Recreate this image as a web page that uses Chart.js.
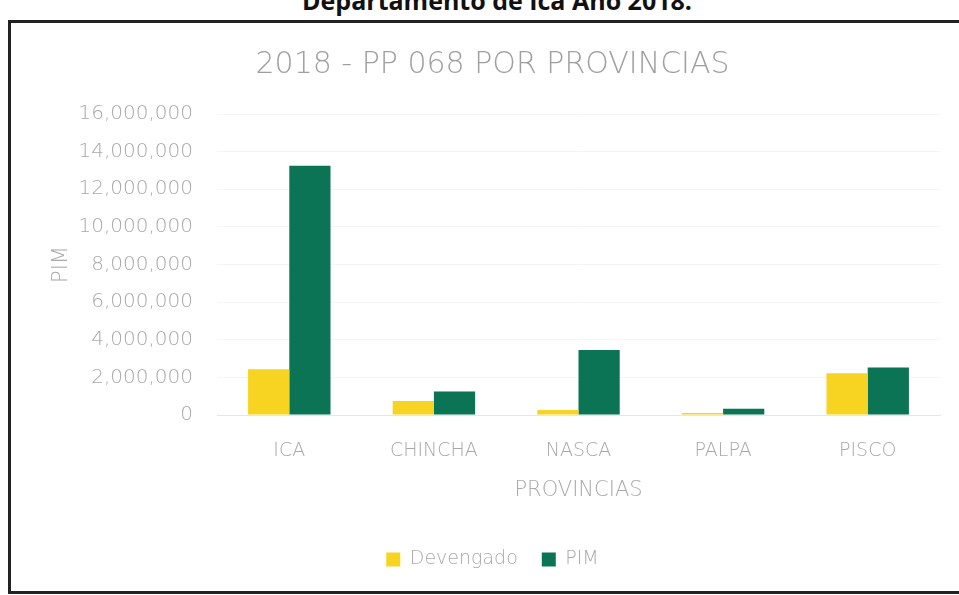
<!DOCTYPE html>
<html>
<head>
<meta charset="utf-8">
<script src="https://cdn.jsdelivr.net/npm/chart.js@4.4.0/dist/chart.umd.min.js"></script>
<style>
  body { margin: 0; background: #fff; width: 959px; height: 595px; overflow: hidden; position: relative; }
  #header {
    position: absolute; left: 0; width: 994px; top: -12px; line-height: 25px; text-align: center;
    font-family: "Open Sans", sans-serif; font-weight: bold; font-size: 25px; color: #111;
  }
  #frame {
    position: absolute; left: 8px; top: 20px; width: 960px; height: 568px;
    border-left: 3px solid #222; border-top: 3px solid #222; border-bottom: 3px solid #222;
  }
  #wrap { position: absolute; left: 11px; top: 23px; width: 948px; height: 568px; }
</style>
</head>
<body>
<div id="header">Departamento de Ica Año 2018.</div>
<div id="frame"></div>
<div id="wrap"><canvas id="chart"></canvas></div>
<script>
// provincias y montos (soles)
const provincias = ['ICA', 'CHINCHA', 'NASCA', 'PALPA', 'PISCO'];
const devengado  = [2430000, 750000, 270000, 100000, 2220000];
const pim        = [13250000, 1250000, 3450000, 330000, 2520000];

const grayText = '#a9a9a9';
const font = '"DejaVu Sans ExtraLight", "DejaVu Sans"';

const ctx = document.getElementById('chart').getContext('2d');
new Chart(ctx, {
  type: 'bar',
  data: {
    labels: provincias,
    datasets: [
      { label: 'Devengado', data: devengado, backgroundColor: '#f7d322' },
      { label: 'PIM',       data: pim,       backgroundColor: '#0b7455' }
    ]
  },
  options: {
    responsive: true,
    maintainAspectRatio: false,
    animation: false,
    layout: { padding: { left: 34, right: 19, top: 0, bottom: 12 } },
    datasets: { bar: { categoryPercentage: 0.57, barPercentage: 1.0 } },
    plugins: {
      title: {
        display: true,
        text: '2018 - PP 068 POR PROVINCIAS',
        color: '#9f9f9f',
        font: { family: font, size: 30, weight: '200' },
        padding: { top: 24, bottom: 31 }
      },
      legend: {
        position: 'bottom',
        labels: {
          color: grayText,
          font: { family: font, size: 19, weight: '200' },
          boxWidth: 14, boxHeight: 14, padding: 24
        }
      },
      tooltip: { enabled: false }
    },
    scales: {
      x: {
        grid: { display: false },
        border: { color: '#e6e6e6' },
        ticks: { color: grayText, font: { family: font, size: 19, weight: '200' }, padding: 17 },
        title: {
          display: true, text: 'PROVINCIAS', color: grayText,
          font: { family: font, size: 21, weight: '200' }, padding: { top: -2, bottom: 23 }
        }
      },
      y: {
        min: 0, max: 16000000,
        afterFit: scale => { scale.width = 172; },
        ticks: {
          stepSize: 2000000, color: grayText, padding: 24,
          font: { family: font, size: 20, weight: '200' },
          callback: v => v.toLocaleString('en-US')
        },
        grid: { color: '#f5f5f5', drawTicks: false },
        border: { display: false },
        title: {
          display: true, text: 'PIM', color: grayText,
          font: { family: font, size: 21, weight: '200' }, padding: { top: 4, bottom: 4 }
        }
      }
    }
  }
});
</script>
</body>
</html>
